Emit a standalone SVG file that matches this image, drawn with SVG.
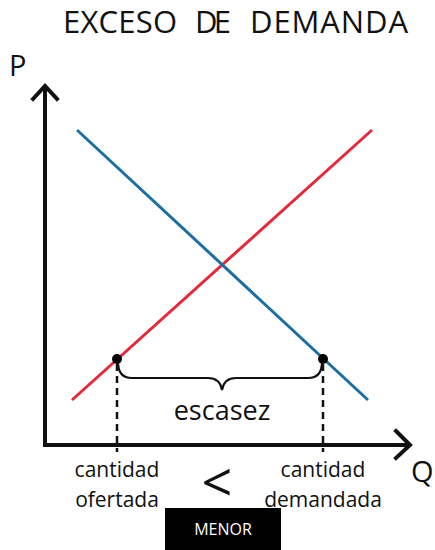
<svg xmlns="http://www.w3.org/2000/svg" width="435" height="550" viewBox="0 0 435 550">
<style>
.t{font-family:"Open Sans","Noto Sans",sans-serif;fill:#111}
.ax{stroke:#111;stroke-width:4;fill:none;stroke-linecap:square}
.dash{stroke:#111;stroke-width:2.5;stroke-dasharray:7 5;fill:none}
</style>
<rect width="435" height="550" fill="#fff"/>
<text class="t" y="33" font-size="31"><tspan x="63" textLength="114" lengthAdjust="spacing">EXCESO</tspan> <tspan x="195" textLength="36" lengthAdjust="spacing">DE</tspan> <tspan x="250" textLength="158" lengthAdjust="spacing">DEMANDA</tspan></text>
<g id="axes">
<path class="ax" d="M45 445 V88 M33 99 L45 86 L57 99"/>
<path class="ax" d="M45 445 H408 M396 431 L410 445 L396 458"/>
<text class="t" x="9" y="76" font-size="29">P</text>
<text class="t" x="411" y="482" font-size="29">Q</text>
</g>
<g id="connectors">
<line id="oferta" x1="72" y1="400" x2="372" y2="130" stroke="#e5283a" stroke-width="3"/>
<line id="demanda" x1="77" y1="130" x2="368" y2="400" stroke="#1e6f9f" stroke-width="3"/>
<path class="dash" d="M117 364 V452"/>
<path class="dash" d="M323 364 V452"/>
<path id="brace" d="M118 362 Q118 378 132 378 H208 Q220 378 222 390 Q224 378 236 378 H308 Q322 378 322 362" stroke="#111" stroke-width="2.2" fill="none"/>
</g>
<g id="points">
<circle cx="117" cy="359" r="5" fill="#000"/>
<circle cx="323" cy="359" r="5" fill="#000"/>
</g>
<text class="t" x="222" y="420" font-size="27" text-anchor="middle">escasez</text>
<g id="labels">
<text class="t" x="117" y="477" font-size="21" text-anchor="middle">cantidad</text>
<text class="t" x="117" y="507" font-size="21" text-anchor="middle">ofertada</text>
<text class="t" x="323" y="477" font-size="21" text-anchor="middle">cantidad</text>
<text class="t" x="323" y="507" font-size="21" text-anchor="middle">demandada</text>
<text class="t" x="217" y="502" font-size="54" text-anchor="middle">&lt;</text>
</g>
<g id="menor">
<rect x="165" y="508" width="116" height="42" fill="#000"/>
<text x="223" y="535" font-size="16" text-anchor="middle" fill="#fff" font-family="Open Sans, sans-serif">MENOR</text>
</g>
</svg>
